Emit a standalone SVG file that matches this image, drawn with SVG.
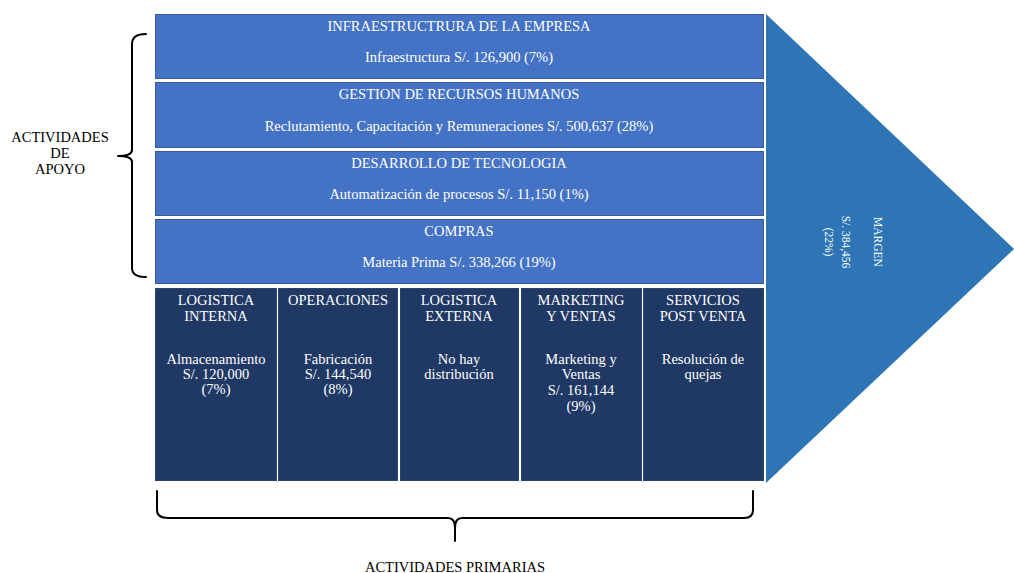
<svg xmlns="http://www.w3.org/2000/svg" width="1014" height="573" viewBox="0 0 1014 573">
<style>
.sup{fill:#4472C4;stroke:#3A5A9A;stroke-width:1}
.pri{fill:#1F3864;stroke:#2E4470;stroke-width:1}
.t{font-family:"Liberation Serif","DejaVu Serif","Times New Roman",serif;font-size:14.5px;fill:#FFFFFF;text-anchor:middle}
.m{font-size:11.5px}
.k{font-family:"Liberation Serif","DejaVu Serif","Times New Roman",serif;font-size:14.5px;fill:#000000;text-anchor:middle}
.br{fill:none;stroke:#000;stroke-width:2;stroke-linejoin:round;stroke-linecap:round}
</style>
<rect width="1014" height="573" fill="#FFFFFF"/>
<g id="margen">
<polygon points="766,14 1014,249 766,483" fill="#2E75B6"/>
<text class="t m" transform="translate(878,242) rotate(90)" y="4">MARGEN</text>
<text class="t m" transform="translate(846,242) rotate(90)" y="4">S/. 384,456</text>
<text class="t m" transform="translate(829,242) rotate(90)" y="4">(22%)</text>
</g>
<g id="infraestructura">
<rect class="sup" x="155.5" y="14.5" width="608" height="64"/>
<text class="t" x="459" y="31">INFRAESTRUCTRURA DE LA EMPRESA</text>
<text class="t" x="459" y="62">Infraestructura S/. 126,900 (7%)</text>
</g>
<g id="rrhh">
<rect class="sup" x="155.5" y="82.5" width="608" height="65"/>
<text class="t" x="459" y="99">GESTION DE RECURSOS HUMANOS</text>
<text class="t" x="459" y="131">Reclutamiento, Capacitación y Remuneraciones S/. 500,637 (28%)</text>
</g>
<g id="tecnologia">
<rect class="sup" x="155.5" y="151.5" width="608" height="64"/>
<text class="t" x="459" y="168">DESARROLLO DE TECNOLOGIA</text>
<text class="t" x="459" y="199">Automatización de procesos S/. 11,150 (1%)</text>
</g>
<g id="compras">
<rect class="sup" x="155.5" y="219.5" width="608" height="64"/>
<text class="t" x="459" y="236">COMPRAS</text>
<text class="t" x="459" y="267">Materia Prima S/. 338,266 (19%)</text>
</g>
<g id="logistica-interna">
<rect class="pri" x="155.5" y="288.5" width="121" height="192"/>
<text class="t" x="216" y="305">LOGISTICA</text>
<text class="t" x="216" y="321">INTERNA</text>
<text class="t" x="216" y="364">Almacenamiento</text>
<text class="t" x="216" y="379">S/. 120,000</text>
<text class="t" x="216" y="394">(7%)</text>
</g>
<g id="operaciones">
<rect class="pri" x="278.5" y="288.5" width="119" height="192"/>
<text class="t" x="338" y="305">OPERACIONES</text>
<text class="t" x="338" y="364">Fabricación</text>
<text class="t" x="338" y="379">S/. 144,540</text>
<text class="t" x="338" y="394">(8%)</text>
</g>
<g id="logistica-externa">
<rect class="pri" x="400.5" y="288.5" width="118" height="192"/>
<text class="t" x="459" y="305">LOGISTICA</text>
<text class="t" x="459" y="321">EXTERNA</text>
<text class="t" x="459" y="364">No hay</text>
<text class="t" x="459" y="379">distribución</text>
</g>
<g id="marketing">
<rect class="pri" x="521.5" y="288.5" width="120" height="192"/>
<text class="t" x="581" y="305">MARKETING</text>
<text class="t" x="581" y="321">Y VENTAS</text>
<text class="t" x="581" y="364">Marketing y</text>
<text class="t" x="581" y="379">Ventas</text>
<text class="t" x="581" y="395">S/. 161,144</text>
<text class="t" x="581" y="411">(9%)</text>
</g>
<g id="postventa">
<rect class="pri" x="643.5" y="288.5" width="120" height="192"/>
<text class="t" x="703" y="305">SERVICIOS</text>
<text class="t" x="703" y="321">POST VENTA</text>
<text class="t" x="703" y="364">Resolución de</text>
<text class="t" x="703" y="379">quejas</text>
</g>
<g id="connectors">
<path class="br" d="M146,34 Q132,34 132,44 L132,150 Q132,156 118,156 Q132,156 132,162 L132,268 Q132,277 146,277"/>
<path class="br" d="M157,491 L157,510 Q157,518 168,518 L448,518 Q455,518 455,528 L455,541 M455,528 Q455,518 462,518 L744,518 Q753,518 753,510 L753,491"/>
</g>
<g id="labels">
<text class="k" x="60" y="142">ACTIVIDADES</text>
<text class="k" x="60" y="158">DE</text>
<text class="k" x="60" y="174">APOYO</text>
<text class="k" x="455" y="572">ACTIVIDADES PRIMARIAS</text>
</g>
</svg>
